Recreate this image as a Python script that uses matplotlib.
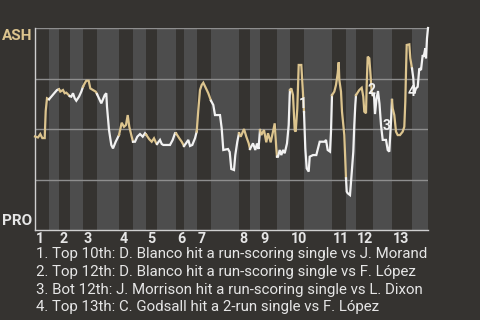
import matplotlib
matplotlib.use("Agg")
import matplotlib.pyplot as plt

plt.rcParams['font.family'] = ['Roboto', 'DejaVu Sans']

BG = '#353330'
STRIPE = '#4d4d4d'
TAN = '#dcc48e'
WHITE = '#f2f2f2'
GRID = '#8e8e8e'
AXIS = '#cfcfcf'
TEXT = '#e6e6e6'

# half-inning boundaries in game-progress units (top halves at even index)
half_bounds = [0, 14, 24, 35, 48, 62, 84, 98, 111, 122, 141, 149, 162, 176,
               204, 215, 225, 242, 255, 269, 297, 311, 321, 338, 357, 377, 393]
innings = [str(i) for i in range(1, 14)]

# ASH win probability (%) through the game
play_x = [
    0, 3, 5.3, 7.3, 9.7, 10.7, 12, 14,
    16.3, 19.7, 22, 24,
    25.3, 28, 29.7, 31.3, 34.7,
    36.3, 38, 39.7, 41.3, 44, 46.3, 48,
    49.7, 51.3, 53.7, 55.3, 58, 60.7, 62,
    64.7, 66.3, 68, 69.7, 71.3, 72, 74, 76.3, 78, 80.7, 84,
    86.7, 89, 91, 92.7, 94.3, 96.7, 98,
    100, 102.3, 105, 107.7, 110, 111,
    114.3, 116.7, 119, 121, 122,
    125, 126.7, 128.3, 135, 137.7, 140, 141,
    144.3, 146.7, 149,
    151, 153.3, 155, 157.3, 160, 161.7,
    163.3, 165, 166.7, 168.3, 171, 173.3, 176,
    178.3, 180, 185, 186.7, 188.3, 193, 194.7, 196.3, 199, 200.3, 202.3, 204,
    205.7, 209, 211.3, 213.7, 215,
    218, 220.3, 222, 223.5, 225,
    226.3, 229, 231.3, 233, 235.7, 238, 239.7, 241.3, 242,
    243, 244.7, 246.3, 248, 249.7, 252, 253.7, 254.7, 255,
    256.3, 258, 259.7, 260.7, 262.3, 263.7, 266.3, 267.7, 269,
    270.3, 271.7, 273.7, 274.7, 278, 281.3, 283, 284.7, 289.7, 291, 292.7, 295, 296, 297,
    299.3, 301, 302.7, 303.7, 304.3, 306, 307, 309.3, 311,
    311.7, 312.7, 315, 316.3, 318.3, 319.3, 320.3, 321,
    324.3, 326.7, 328.3, 329.3, 331, 331.7, 332.7, 334.3, 335.3, 336.7, 337.7,
    339, 340, 341.5, 343, 344.5, 346, 347.7, 351, 352.7, 354.3, 356, 357,
    357.7, 359.3, 361, 362.7, 365, 367.7, 369.3, 370.3, 371, 371.7, 374.3, 375.3, 377,
    378.3, 379.3, 381, 382.7, 384.3, 386, 387.7, 388.7, 390.3, 391, 392, 393,
]
win_prob = [
    46.3, 45.8, 47.5, 45.5, 45.5, 58.9, 65.2, 64.7,
    66.0, 68.0, 69.3, 69.7,
    68.5, 69.3, 67.7, 68.0, 66.3,
    66.0, 67.7, 65.2, 64.0, 66.0, 68.5, 70.9,
    72.6, 73.9, 73.9, 70.1, 69.3, 68.5, 67.3,
    64.4, 62.7, 64.7, 66.8, 67.7, 61.0, 49.5, 42.1, 40.4, 43.7, 47.0,
    53.1, 51.1, 52.0, 56.9, 51.1, 46.2, 43.7,
    43.7, 46.2, 47.5, 46.2, 47.9, 47.3,
    44.9, 43.7, 45.4, 43.2, 42.6,
    44.6, 42.6, 42.1, 42.1, 44.6, 47.9, 47.9,
    45.4, 43.7, 41.6,
    42.9, 44.6, 41.6, 42.1, 45.4, 48.7,
    59.4, 69.3, 71.8, 72.9, 70.1, 67.7, 64.0,
    61.9, 56.9, 56.9, 50.3, 39.6, 40.1, 38.6, 30.2, 29.7, 37.1, 43.7, 47.9,
    46.2, 50.0, 46.2, 42.9, 40.1,
    42.9, 39.6, 42.8, 40.1, 49.5,
    47.0, 49.5, 43.4, 47.9, 43.4, 48.7, 52.8, 40.4, 36.3,
    36.3, 39.6, 37.1, 39.6, 38.0, 42.9, 52.0, 66.8, 69.3,
    70.1, 66.8, 49.5, 48.7, 60.2, 81.7, 81.7, 70.1, 58.4,
    40.4, 30.5, 28.9, 36.3, 37.1, 37.1, 40.4, 43.7, 43.7, 44.6, 39.6, 38.8, 48.7, 66.8,
    68.5, 71.8, 77.6, 83.0, 74.3, 68.5, 58.6, 47.0, 25.6,
    19.0, 18.2, 17.3, 25.6, 38.8, 52.0, 61.9, 66.8,
    69.3, 70.4, 66.0, 58.6, 57.8, 71.8, 85.8, 85.0, 78.4, 68.5, 66.8,
    66.8, 57.4, 64.9, 68.8, 62.4, 52.0, 44.6, 44.6, 39.6, 38.8, 53.6, 64.4,
    60.2, 56.9, 48.7, 47.0, 47.0, 48.7, 51.1, 63.5, 78.4, 91.6, 91.9, 85.0, 80.0,
    75.1, 67.7, 70.1, 70.9, 80.0, 79.2, 86.6, 85.8, 90.0, 85.0, 94.9, 100,
]

note_labels = ['1', '2', '3', '4']
note_x = [268, 337, 351.7, 377]
note_y = [62.6, 69.3, 51.5, 68.3]
notes = [
    '1. Top 10th: D. Blanco hit a run-scoring single vs J. Morand',
    '2. Top 12th: D. Blanco hit a run-scoring single vs F. López',
    '3. Bot 12th: J. Morrison hit a run-scoring single vs L. Dixon',
    '4. Top 13th: C. Godsall hit a 2-run single vs F. López',
]

W, H = 480, 320
fig = plt.figure(figsize=(W / 100, H / 100), dpi=100, facecolor=BG)
ax = fig.add_axes([35 / W, 90 / H, 393 / W, 202 / H])
ax.set_facecolor(BG)
ax.set_xlim(half_bounds[0], half_bounds[-1])
ax.set_ylim(0, 100)

# bottom half-innings get the lighter stripe
for i in range(1, len(half_bounds) - 1, 2):
    ax.axvspan(half_bounds[i], half_bounds[i + 1], color=STRIPE, lw=0, zorder=0)

for y in [25, 50, 75, 100]:
    ax.axhline(y, color=GRID, lw=1, zorder=1)

# line coloured by half-inning: top = ASH batting (tan), bottom = white
for i in range(len(half_bounds) - 1):
    lo, hi = half_bounds[i], half_bounds[i + 1]
    idx = [k for k, x in enumerate(play_x) if (lo < x or i == 0) and x <= hi]
    if not idx:
        continue
    start = max(idx[0] - 1, 0)
    xs = play_x[start:idx[-1] + 1]
    ys = win_prob[start:idx[-1] + 1]
    ax.plot(xs, ys, color=TAN if i % 2 == 0 else WHITE, lw=1.6,
            solid_joinstyle='miter', zorder=3, clip_on=False)

for lab, x, y in zip(note_labels, note_x, note_y):
    ax.text(x, y, lab, color=WHITE, fontsize=10, fontweight='bold',
            ha='center', va='center', zorder=4)

for s in ['top', 'right']:
    ax.spines[s].set_visible(False)
for s in ['left', 'bottom']:
    ax.spines[s].set_color(AXIS)
    ax.spines[s].set_linewidth(1)
ax.set_xticks([])
ax.set_yticks([])

for i, lab in enumerate(innings):
    ax.text(half_bounds[2 * i] + 0.8, -1.2, lab, color=TEXT, fontsize=10.3,
            fontweight='bold', ha='left', va='top', clip_on=False)

fig.text(32.5 / W, 1 - 40 / H, 'ASH', color=TAN, fontsize=11,
         fontweight='bold', ha='right', va='baseline')
fig.text(32.5 / W, 1 - 225 / H, 'PRO', color=TEXT, fontsize=11,
         fontweight='bold', ha='right', va='baseline')

for j, line in enumerate(notes):
    fig.text(36 / W, 1 - (258.4 + 17.7 * j) / H, line, color=TEXT,
             fontsize=10.8, ha='left', va='baseline')

fig.savefig('out.png', dpi=100, facecolor=BG)
